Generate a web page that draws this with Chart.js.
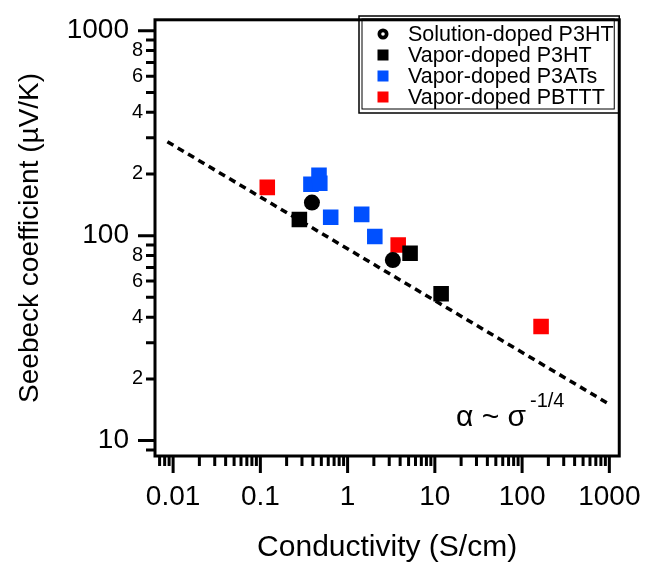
<!DOCTYPE html>
<html>
<head>
<meta charset="utf-8">
<script src="https://cdn.jsdelivr.net/npm/chart.js@4.4.1/dist/chart.umd.min.js"></script>
<style>
  html, body { margin: 0; padding: 0; background: #fff; }
  #wrap { width: 648px; height: 563px; }
</style>
</head>
<body>
<div id="wrap"><canvas id="c" width="648" height="563"></canvas></div>
<script>
// values
var solutionX = [0.39, 3.3];
var solutionY = [145, 76];
var vaporP3htX = [0.28, 5.2, 11.8];
var vaporP3htY = [120, 82, 52];
var vaporP3atX = [0.38, 0.48, 0.47, 0.64, 1.45, 2.05];
var vaporP3atY = [178, 180, 197, 123, 127, 99];
var vaporPbtttX = [0.12, 3.8, 165];
var vaporPbtttY = [172, 90, 36];
var fitX = [0.0086, 960];
var fitY = [287, 15.2];
var xMajorTicks = [0.01, 0.1, 1, 10, 100, 1000];
var yMajorTicks = [10, 100, 1000];
var yMinorLabels = [2, 4, 6, 8];

var FONT = '"Liberation Sans", Arial, Helvetica, sans-serif';
var BLUE = 'rgb(0,80,255)';
var RED = 'rgb(255,0,0)';

function pts(xs, ys) {
    return xs.map(function(x, i) { return {x: x, y: ys[i]}; });
}

function logTicks(min, max) {
    var out = [];
    for (var e = Math.floor(Math.log10(min)); e <= Math.ceil(Math.log10(max)); e++) {
        for (var m = 1; m <= 9; m++) {
            var v = m * Math.pow(10, e);
            v = parseFloat(v.toPrecision(6));
            if (v >= min && v <= max) {
                out.push({value: v, major: m === 1});
            }
        }
    }
    return out;
}

function isMajor(v) {
    return Math.abs(Math.log10(v) - Math.round(Math.log10(v))) < 1e-6;
}

var legendItems = [
    {label: 'Solution-doped P3HT', color: '#000', ring: true},
    {label: 'Vapor-doped P3HT', color: '#000'},
    {label: 'Vapor-doped P3ATs', color: BLUE},
    {label: 'Vapor-doped PBTTT', color: RED}
];

var decor = {
    id: 'decor',
    afterDraw: function(chart) {
        var ctx = chart.ctx;
        var a = chart.chartArea;
        var xs = chart.scales.x, ys = chart.scales.y;
        ctx.save();
        ctx.strokeStyle = '#000';
        ctx.lineWidth = 3;
        ctx.lineCap = 'butt';
        // frame
        ctx.strokeRect(a.left, a.top, a.right - a.left, a.bottom - a.top);
        // ticks
        ctx.beginPath();
        xs.ticks.forEach(function(t) {
            var px = xs.getPixelForValue(t.value);
            var len = isMajor(t.value) ? 17 : 10;
            ctx.moveTo(px, a.bottom);
            ctx.lineTo(px, a.bottom + len);
        });
        ys.ticks.forEach(function(t) {
            var py = ys.getPixelForValue(t.value);
            var len = isMajor(t.value) ? 17 : 9;
            ctx.moveTo(a.left, py);
            ctx.lineTo(a.left - len, py);
        });
        ctx.stroke();

        // legend
        var lx = 359, ly = 16, lw = a.right - 359, lh = 97;
        ctx.lineWidth = 1.5;
        ctx.strokeRect(lx, ly, lw, lh);
        ctx.lineWidth = 1;
        ctx.strokeRect(lx + 3, ly + 3, lw - 8, lh - 7);
        ctx.font = '21.5px ' + FONT;
        ctx.textBaseline = 'alphabetic';
        ctx.textAlign = 'left';
        legendItems.forEach(function(it, i) {
            var base = 41 + i * 21;
            var cy = base - 7;
            ctx.fillStyle = it.color;
            if (it.ring) {
                ctx.beginPath();
                ctx.arc(383, cy, 5.5, 0, Math.PI * 2);
                ctx.fill();
                ctx.fillStyle = '#fff';
                ctx.beginPath();
                ctx.arc(383, cy, 1.8, 0, Math.PI * 2);
                ctx.fill();
            } else {
                ctx.fillRect(383 - 5.5, cy - 5.5, 11, 11);
            }
            ctx.fillStyle = '#000';
            ctx.fillText(it.label, 408, base);
        });

        // power law annotation
        ctx.fillStyle = '#000';
        ctx.font = '30px ' + FONT;
        ctx.fillText('\u03b1 ~ \u03c3', 456, 426);
        ctx.font = '20px ' + FONT;
        ctx.fillText('-1/4', 530, 407);
        ctx.restore();
    }
};

new Chart(document.getElementById('c'), {
    type: 'scatter',
    data: {
        datasets: [
            {
                label: 'Solution-doped P3HT',
                data: pts(solutionX, solutionY),
                pointStyle: 'circle',
                pointRadius: 8,
                backgroundColor: '#000',
                borderWidth: 0,
                order: 1
            },
            {
                label: 'Vapor-doped P3HT',
                data: pts(vaporP3htX, vaporP3htY),
                pointStyle: 'rect',
                pointRadius: 11,
                backgroundColor: '#000',
                borderWidth: 0,
                order: 2
            },
            {
                label: 'Vapor-doped PBTTT',
                data: pts(vaporPbtttX, vaporPbtttY),
                pointStyle: 'rect',
                pointRadius: 11,
                backgroundColor: RED,
                borderWidth: 0,
                order: 3
            },
            {
                label: 'Vapor-doped P3ATs',
                data: pts(vaporP3atX, vaporP3atY),
                pointStyle: 'rect',
                pointRadius: 11,
                backgroundColor: BLUE,
                borderWidth: 0,
                order: 4
            },
            {
                label: 'fit',
                data: pts(fitX, fitY),
                showLine: true,
                borderColor: '#000',
                borderWidth: 3.5,
                borderDash: [7, 5],
                pointRadius: 0,
                fill: false,
                order: 5
            }
        ]
    },
    options: {
        responsive: false,
        animation: false,
        events: [],
        layout: { padding: { top: 16, right: 24, left: 0, bottom: 0 } },
        plugins: {
            legend: { display: false },
            tooltip: { enabled: false }
        },
        scales: {
            x: {
                type: 'logarithmic',
                min: 0.0062,
                max: 1299,
                afterBuildTicks: function(scale) {
                    scale.ticks = logTicks(scale.min, scale.max);
                },
                afterFit: function(scale) { scale.height = 107; },
                grid: { display: false, drawTicks: true, tickLength: 17 },
                border: { display: false },
                ticks: {
                    autoSkip: false,
                    maxRotation: 0,
                    minRotation: 0,
                    padding: 7,
                    color: '#000',
                    font: { family: FONT, size: 28 },
                    callback: function(v) {
                        return xMajorTicks.indexOf(v) >= 0 ? String(v) : '';
                    }
                },
                title: {
                    display: true,
                    text: 'Conductivity (S/cm)',
                    color: '#000',
                    font: { family: FONT, size: 30, lineHeight: 1 },
                    padding: { top: 0, bottom: 0 }
                }
            },
            y: {
                type: 'logarithmic',
                min: 8.41,
                max: 1130,
                afterBuildTicks: function(scale) {
                    scale.ticks = logTicks(scale.min, scale.max);
                },
                afterFit: function(scale) { scale.width = 155; },
                grid: { display: false, drawTicks: true, tickLength: 9 },
                border: { display: false },
                ticks: {
                    autoSkip: false,
                    padding: 3,
                    color: '#000',
                    font: function(c) {
                        var v = c.tick ? c.tick.value : 0;
                        return { family: FONT, size: isMajor(v) ? 28 : 20 };
                    },
                    callback: function(v) {
                        if (yMajorTicks.indexOf(v) >= 0) return String(v) + '\u2002';
                        var m = Math.round(v / Math.pow(10, Math.floor(Math.log10(v) + 1e-9)));
                        return yMinorLabels.indexOf(m) >= 0 ? String(m) : '';
                    }
                },
                title: {
                    display: true,
                    text: 'Seebeck coefficient (\u00b5V/K)',
                    color: '#000',
                    font: { family: FONT, size: 28, lineHeight: 1 },
                    padding: { top: 16, bottom: 0 }
                }
            }
        }
    },
    plugins: [decor]
});
</script>
</body>
</html>
